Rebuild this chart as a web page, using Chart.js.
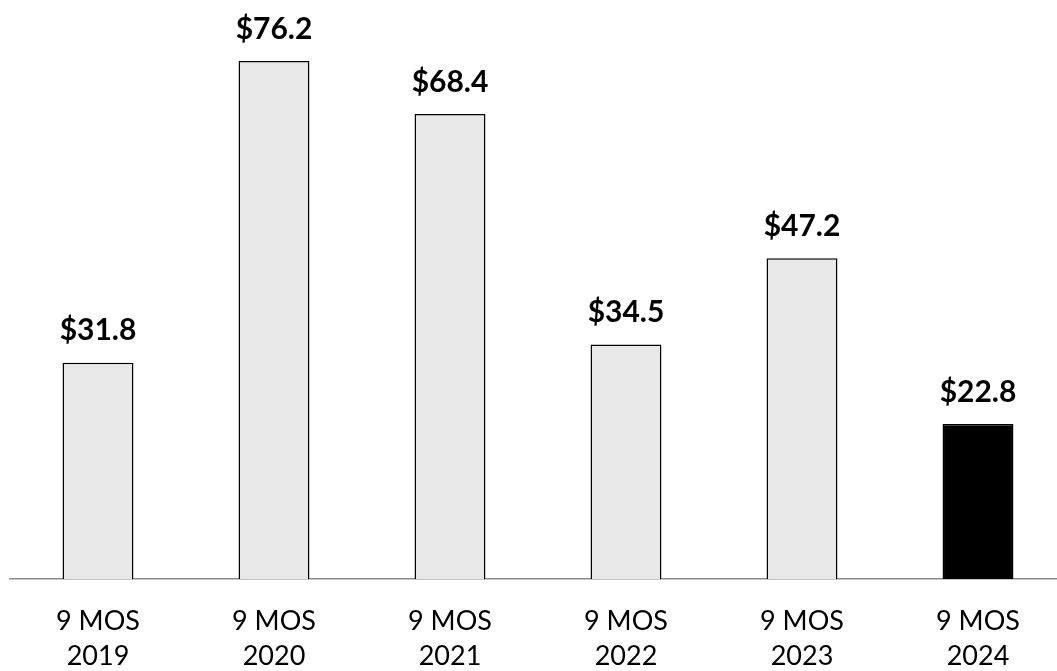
<!DOCTYPE html>
<html>
<head>
<meta charset="utf-8">
<script src="https://cdn.jsdelivr.net/npm/chart.js@4"></script>
<style>
  html, body { margin: 0; padding: 0; background: #fff; overflow: hidden; }
  #wrap { width: 1070px; height: 671px; }
</style>
</head>
<body>
<div id="wrap"><canvas id="myChart"></canvas></div>
<script>
let periods = ["9 MOS", "9 MOS", "9 MOS", "9 MOS", "9 MOS", "9 MOS"];
let years = ["2019", "2020", "2021", "2022", "2023", "2024"];
let values = [31.8, 76.2, 68.4, 34.5, 47.2, 22.8];
let valueLabels = ["$31.8", "$76.2", "$68.4", "$34.5", "$47.2", "$22.8"];

let fillColors = ["#e8e8e8", "#e8e8e8", "#e8e8e8", "#e8e8e8", "#e8e8e8", "#000000"];
let fontFamily = "Lato, 'Open Sans', sans-serif";

// value labels above each bar
let valueLabelPlugin = {
  id: "valueLabels",
  afterDatasetsDraw(chart) {
    let ctx = chart.ctx;
    let meta = chart.getDatasetMeta(0);
    ctx.save();
    ctx.font = "bold 30px " + fontFamily;
    ctx.fillStyle = "#000";
    ctx.textAlign = "center";
    ctx.textBaseline = "middle";
    meta.data.forEach((bar, i) => {
      ctx.fillText(valueLabels[i], bar.x, bar.y - 32);
    });
    ctx.restore();
  },
};

let ctx = document.getElementById("myChart").getContext("2d");
let myChart = new Chart(ctx, {
  type: "bar",
  data: {
    labels: years.map((y, i) => [periods[i], y]),
    datasets: [
      {
        data: values,
        backgroundColor: fillColors,
        borderColor: "#000",
        borderWidth: 1.5,
        barPercentage: 0.403,
        categoryPercentage: 1,
      },
    ],
  },
  options: {
    responsive: true,
    maintainAspectRatio: false,
    animation: false,
    layout: { padding: { left: 10, right: 4, top: 0, bottom: 0 } },
    plugins: {
      legend: { display: false },
      tooltip: { enabled: false },
    },
    scales: {
      x: {
        grid: { display: false },
        border: { display: true, color: "#8c8c8c", width: 1.5 },
        ticks: {
          color: "#000",
          padding: 17,
          font: { family: fontFamily, size: 27, lineHeight: 1.3 },
          maxRotation: 0,
        },
        afterFit(scale) {
          scale.height = 92;
        },
      },
      y: {
        display: false,
        min: 0,
        max: 85.17,
      },
    },
  },
  plugins: [valueLabelPlugin],
});
</script>
</body>
</html>
